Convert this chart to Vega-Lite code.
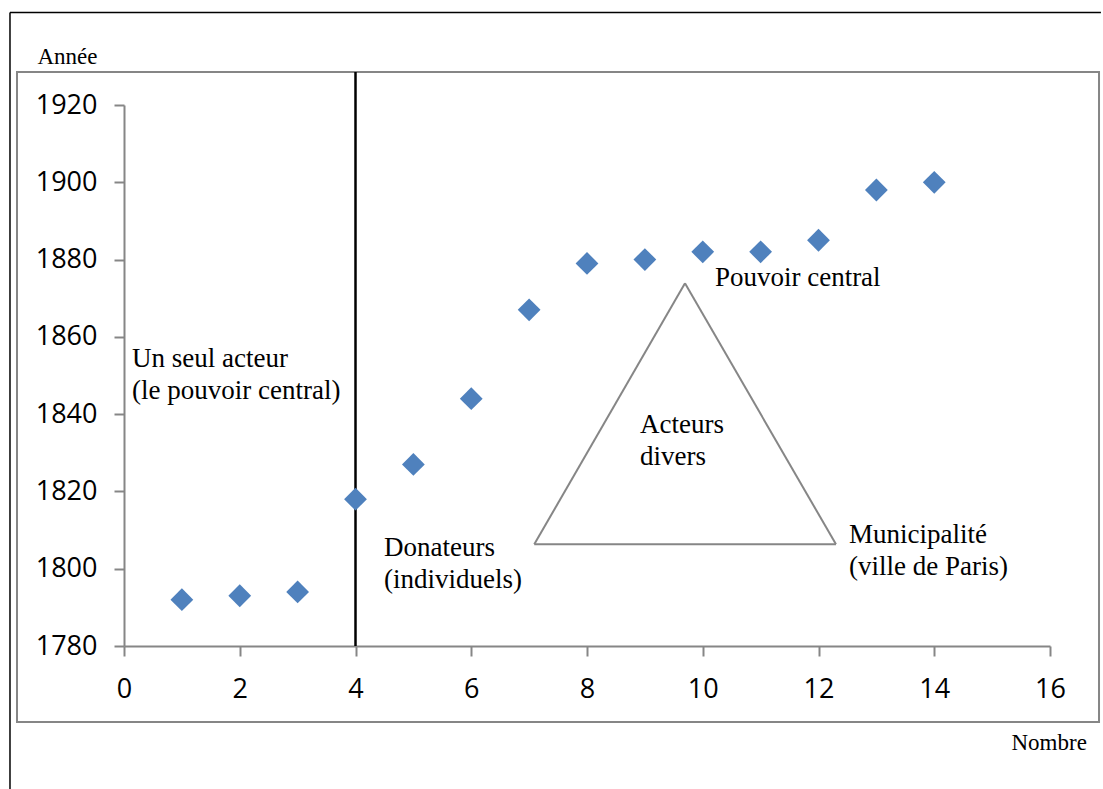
{
  "$schema": "https://vega.github.io/schema/vega-lite/v6.json",
  "width": 926,
  "height": 541,
  "autosize": {"type": "none"},
  "padding": {"left": 124, "top": 105, "right": 53, "bottom": 143},
  "background": "white",
  "config": {
    "view": {"stroke": null},
    "axis": {
      "grid": false,
      "domainColor": "#868686",
      "domainWidth": 2,
      "tickColor": "#868686",
      "tickWidth": 2,
      "tickSize": 10,
      "labelFlush": false,
      "labelOverlap": false,
      "labelFont": "Open Sans",
      "labelFontSize": 27,
      "labelColor": "#000000",
      "titleFont": "Liberation Serif",
      "titleFontSize": 23,
      "titleFontWeight": "normal",
      "titleColor": "#000000"
    }
  },
  "datasets": {
    "points": [
      {"nombre": 1, "annee": 1792},
      {"nombre": 2, "annee": 1793},
      {"nombre": 3, "annee": 1794},
      {"nombre": 4, "annee": 1818},
      {"nombre": 5, "annee": 1827},
      {"nombre": 6, "annee": 1844},
      {"nombre": 7, "annee": 1867},
      {"nombre": 8, "annee": 1879},
      {"nombre": 9, "annee": 1880},
      {"nombre": 10, "annee": 1882},
      {"nombre": 11, "annee": 1882},
      {"nombre": 12, "annee": 1885},
      {"nombre": 13, "annee": 1898},
      {"nombre": 14, "annee": 1900}
    ],
    "one": [{}]
  },
  "layer": [
    {
      "data": {"name": "one"},
      "mark": {"type": "rect", "fillOpacity": 0, "stroke": "#868686", "strokeWidth": 2, "clip": false},
      "encoding": {
        "x": {"datum": -1.849, "type": "quantitative"},
        "x2": {"datum": 16.847},
        "y": {"datum": 1760.33, "type": "quantitative"},
        "y2": {"datum": 1928.54}
      }
    },
    {
      "data": {"name": "one"},
      "mark": {"type": "rule", "color": "#000000", "strokeWidth": 1.5, "clip": false},
      "encoding": {
        "x": {"datum": -1.97, "type": "quantitative"},
        "x2": {"datum": 16.88},
        "y": {"datum": 1943.94, "type": "quantitative"}
      }
    },
    {
      "data": {"name": "one"},
      "mark": {"type": "rule", "color": "#000000", "strokeWidth": 1.5, "clip": false},
      "encoding": {
        "x": {"datum": -1.97, "type": "quantitative"},
        "y": {"datum": 1943.94, "type": "quantitative"},
        "y2": {"datum": 1730}
      }
    },
    {
      "data": {"name": "one"},
      "mark": {"type": "rule", "color": "#000000", "strokeWidth": 2.5, "clip": false},
      "encoding": {
        "x": {"datum": 4, "type": "quantitative"},
        "y": {"datum": 1780, "type": "quantitative"},
        "y2": {"datum": 1928.54}
      }
    },
    {
      "data": {"name": "one"},
      "mark": {"type": "rule", "color": "#868686", "strokeWidth": 2, "clip": false},
      "encoding": {
        "x": {"datum": 7.089, "type": "quantitative"},
        "y": {"datum": 1806.32, "type": "quantitative"},
        "x2": {"datum": 9.693},
        "y2": {"datum": 1873.87}
      }
    },
    {
      "data": {"name": "one"},
      "mark": {"type": "rule", "color": "#868686", "strokeWidth": 2, "clip": false},
      "encoding": {
        "x": {"datum": 9.693, "type": "quantitative"},
        "y": {"datum": 1873.87, "type": "quantitative"},
        "x2": {"datum": 12.302},
        "y2": {"datum": 1806.32}
      }
    },
    {
      "data": {"name": "one"},
      "mark": {"type": "rule", "color": "#868686", "strokeWidth": 2, "clip": false},
      "encoding": {
        "x": {"datum": 7.089, "type": "quantitative"},
        "y": {"datum": 1806.32, "type": "quantitative"},
        "x2": {"datum": 12.302},
        "y2": {"datum": 1806.32}
      }
    },
    {
      "data": {"name": "one"},
      "mark": {"type": "text", "text": ["Un seul acteur", "(le pouvoir central)"], "font": "Liberation Serif", "fontSize": 27, "lineHeight": 32, "align": "left", "baseline": "alphabetic", "color": "#000000", "clip": false},
      "encoding": {
        "x": {"datum": 0.138, "type": "quantitative"},
        "y": {"datum": 1852.2, "type": "quantitative"}
      }
    },
    {
      "data": {"name": "one"},
      "mark": {"type": "text", "text": "Pouvoir central", "font": "Liberation Serif", "fontSize": 27, "align": "left", "baseline": "alphabetic", "color": "#000000", "clip": false},
      "encoding": {
        "x": {"datum": 10.21, "type": "quantitative"},
        "y": {"datum": 1873.17, "type": "quantitative"}
      }
    },
    {
      "data": {"name": "one"},
      "mark": {"type": "text", "text": ["Acteurs", "divers"], "font": "Liberation Serif", "fontSize": 27, "lineHeight": 32, "align": "left", "baseline": "alphabetic", "color": "#000000", "clip": false},
      "encoding": {
        "x": {"datum": 8.916, "type": "quantitative"},
        "y": {"datum": 1835.12, "type": "quantitative"}
      }
    },
    {
      "data": {"name": "one"},
      "mark": {"type": "text", "text": ["Donateurs", "(individuels)"], "font": "Liberation Serif", "fontSize": 27, "lineHeight": 32, "align": "left", "baseline": "alphabetic", "color": "#000000", "clip": false},
      "encoding": {
        "x": {"datum": 4.492, "type": "quantitative"},
        "y": {"datum": 1803.29, "type": "quantitative"}
      }
    },
    {
      "data": {"name": "one"},
      "mark": {"type": "text", "text": ["Municipalité", "(ville de Paris)"], "font": "Liberation Serif", "fontSize": 27, "lineHeight": 32, "align": "left", "baseline": "alphabetic", "color": "#000000", "clip": false},
      "encoding": {
        "x": {"datum": 12.527, "type": "quantitative"},
        "y": {"datum": 1806.66, "type": "quantitative"}
      }
    },
    {
      "data": {"name": "points"},
      "mark": {"type": "point", "shape": "diamond", "filled": true, "size": 520, "color": "#4F81BD", "opacity": 1},
      "encoding": {
        "x": {
          "field": "nombre", "type": "quantitative",
          "scale": {"domain": [0, 16], "nice": false, "zero": false},
          "axis": {
            "values": [0, 2, 4, 6, 8, 10, 12, 14, 16],
            "format": "d",
            "labelPadding": 20,
            "title": "Nombre",
            "titleAngle": 0,
            "titleAlign": "left",
            "titleBaseline": "alphabetic",
            "titleX": 887,
            "titleY": 103
          }
        },
        "y": {
          "field": "annee", "type": "quantitative",
          "scale": {"domain": [1780, 1920], "nice": false, "zero": false},
          "axis": {
            "values": [1780, 1800, 1820, 1840, 1860, 1880, 1900, 1920],
            "labelPadding": 17,
            "format": "d",
            "title": "Année",
            "titleAngle": 0,
            "titleAlign": "left",
            "titleBaseline": "alphabetic",
            "titleX": -87,
            "titleY": -42
          }
        }
      }
    }
  ]
}
